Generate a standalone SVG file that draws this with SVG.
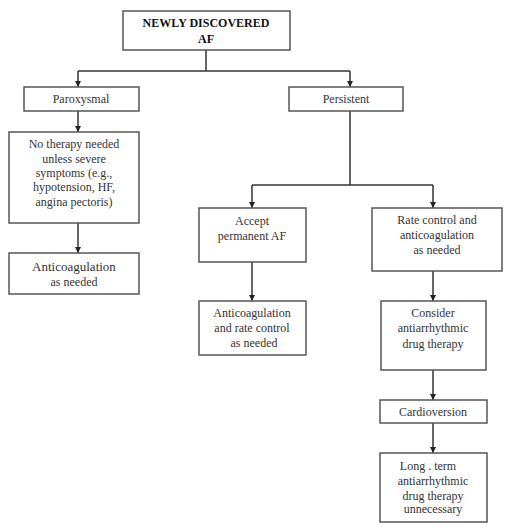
<svg xmlns="http://www.w3.org/2000/svg" width="510" height="530" viewBox="0 0 510 530">
<style>
rect{fill:#fff;stroke:#555;stroke-width:1.5}
text{font-family:"Liberation Serif","Times New Roman",serif;font-size:12px;fill:#333;text-anchor:middle}
.b{font-weight:bold;fill:#111}
.c{fill:none;stroke:#333;stroke-width:1.5}
</style>
<defs>
<marker id="a" viewBox="0 0 10 10" refX="10" refY="5" markerWidth="6" markerHeight="6" markerUnits="userSpaceOnUse" orient="auto">
<path d="M0,0 L10,5 L0,10 z" fill="#222"/>
</marker>
</defs>
<rect width="510" height="530" style="fill:#fff;stroke:none"/>
<g id="connectors">
<path class="c" d="M206,50 V71"/>
<path class="c" d="M78,71 H350"/>
<path class="c" d="M78,71 V87" marker-end="url(#a)"/>
<path class="c" d="M350,71 V87" marker-end="url(#a)"/>
<path class="c" d="M78,111 V132" marker-end="url(#a)"/>
<path class="c" d="M78,223 V253" marker-end="url(#a)"/>
<path class="c" d="M350,111 V185"/>
<path class="c" d="M252,185 H433"/>
<path class="c" d="M252,185 V208" marker-end="url(#a)"/>
<path class="c" d="M433,185 V208" marker-end="url(#a)"/>
<path class="c" d="M252,262 V301" marker-end="url(#a)"/>
<path class="c" d="M433,271 V301" marker-end="url(#a)"/>
<path class="c" d="M433,370 V400" marker-end="url(#a)"/>
<path class="c" d="M433,423 V453" marker-end="url(#a)"/>
</g>
<g id="n-start">
<rect x="123" y="11" width="167" height="39"/>
<text class="b" x="206" y="27">NEWLY DISCOVERED</text>
<text class="b" x="206" y="43">AF</text>
</g>
<g id="n-parox">
<rect x="24" y="87" width="115" height="24"/>
<text x="81" y="103">Paroxysmal</text>
</g>
<g id="n-persist">
<rect x="289" y="87" width="114" height="24"/>
<text x="346" y="103">Persistent</text>
</g>
<g id="n-notherapy">
<rect x="9" y="132" width="130" height="91"/>
<text x="74" y="148">No therapy needed</text>
<text x="74" y="163">unless severe</text>
<text x="74" y="177">symptoms (e.g.,</text>
<text x="74" y="191">hypotension, HF,</text>
<text x="74" y="206">angina pectoris)</text>
</g>
<g id="n-anticoag1">
<rect x="9" y="253" width="130" height="41"/>
<text x="74" y="271" style="font-size:13px">Anticoagulation</text>
<text x="74" y="286">as needed</text>
</g>
<g id="n-accept">
<rect x="199" y="208" width="107" height="54"/>
<text x="252" y="225">Accept</text>
<text x="252" y="240">permanent AF</text>
</g>
<g id="n-ratecontrol">
<rect x="372" y="208" width="130" height="63"/>
<text x="437" y="224">Rate control and</text>
<text x="437" y="239">anticoagulation</text>
<text x="437" y="254">as needed</text>
</g>
<g id="n-anticoag2">
<rect x="199" y="301" width="107" height="54"/>
<text x="252" y="317">Anticoagulation</text>
<text x="252" y="332">and rate control</text>
<text x="254" y="347">as needed</text>
</g>
<g id="n-consider">
<rect x="381" y="301" width="105" height="69"/>
<text x="433" y="317">Consider</text>
<text x="433" y="332">antiarrhythmic</text>
<text x="433" y="348">drug therapy</text>
</g>
<g id="n-cardio">
<rect x="380" y="400" width="107" height="23"/>
<text x="433" y="416">Cardioversion</text>
</g>
<g id="n-longterm">
<rect x="380" y="453" width="107" height="69"/>
<text x="428" y="470">Long . term</text>
<text x="433" y="485">antiarrhythmic</text>
<text x="433" y="500">drug therapy</text>
<text x="433" y="513">unnecessary</text>
</g>
</svg>
